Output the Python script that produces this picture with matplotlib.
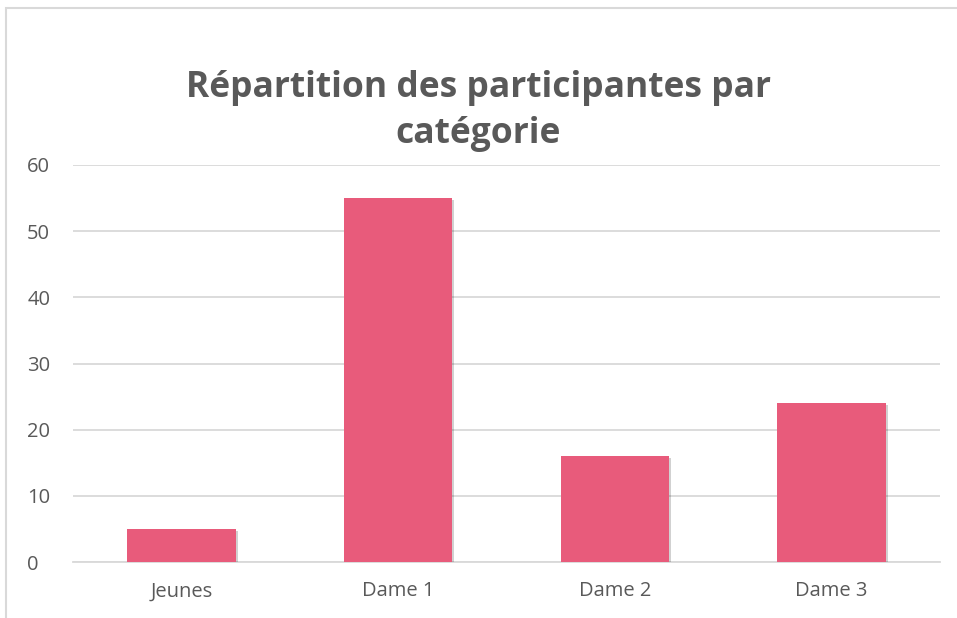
import matplotlib
matplotlib.use("Agg")
import matplotlib.pyplot as plt
import matplotlib.patheffects as pe
from matplotlib.patches import Rectangle

categories = ["Jeunes", "Dame 1", "Dame 2", "Dame 3"]
counts = [5, 55, 16, 24]
y_ticks = [0, 10, 20, 30, 40, 50, 60]

BAR_COLOR = "#E85B7B"
TEXT_COLOR = "#595959"
GRID_COLOR = "#D9D9D9"

plt.rcParams["font.family"] = ["Open Sans", "DejaVu Sans"]

fig = plt.figure(figsize=(9.57, 6.18), dpi=100)
ax = fig.add_axes([73 / 957, 1 - 562 / 618, 867 / 957, (562 - 165) / 618])

# chart frame (only left and top edges show in the picture)
fig.patches.append(Rectangle((6 / 957, -0.1), 1.2, 1 - 8 / 618 + 0.1,
                             transform=fig.transFigure, fill=False,
                             edgecolor=GRID_COLOR, linewidth=1.5))

x = range(len(categories))
bars = ax.bar(x, counts, width=0.5, color=BAR_COLOR, zorder=3)
for b in bars:
    b.set_path_effects([pe.SimplePatchShadow(offset=(1.5, -1.5), shadow_rgbFace="#000000", alpha=0.18),
                        pe.Normal()])

ax.set_xlim(-0.5, len(categories) - 0.5)
ax.set_ylim(0, 60)
ax.set_yticks(y_ticks)
ax.set_xticks(list(x))
ax.set_xticklabels(categories)
ax.yaxis.grid(True, color=GRID_COLOR, linewidth=1.3, zorder=0)
ax.set_axisbelow(True)
for s in ["top", "right", "left"]:
    ax.spines[s].set_visible(False)
ax.spines["bottom"].set_color(GRID_COLOR)
ax.spines["bottom"].set_linewidth(1.3)
ax.tick_params(axis="both", length=0, labelsize=14.5, labelcolor=TEXT_COLOR)
ax.tick_params(axis="y", pad=33)
ax.tick_params(axis="x", pad=14)
for lab in ax.get_yticklabels():
    lab.set_horizontalalignment("left")

fig.text(0.5, 1 - 111 / 618, "Répartition des participantes par\ncatégorie",
         ha="center", va="center", fontsize=25.5, fontweight="bold",
         color=TEXT_COLOR, linespacing=1.4)

fig.savefig("out.png", dpi=100, facecolor="white")
